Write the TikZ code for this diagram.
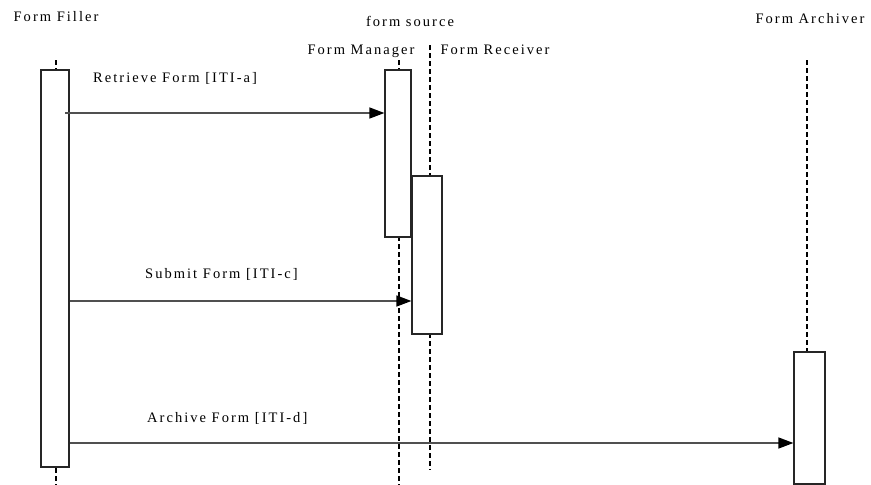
\documentclass[tikz,border=0pt]{standalone}
\usepackage{fontspec}
\setmainfont[LetterSpace=14]{Liberation Serif}
\usetikzlibrary{arrows.meta}
\definecolor{linegray}{RGB}{80,80,80}

\begin{document}
\begin{tikzpicture}[x=1pt, y=-1pt,
  actor/.style={font=\fontsize{14.5}{17}\selectfont, text=black, anchor=base, inner sep=0pt},
  msglabel/.style={font=\fontsize{14.5}{17}\selectfont, text=black, anchor=base west, inner sep=0pt},
  actbox/.style={draw=black!85, line width=1.2pt, fill=white, inner sep=0pt},
  lifeline/.style={draw=black, line width=1.3pt, dash pattern=on 5pt off 3pt},
  msg/.style={draw=linegray, line width=1.4pt, -{Triangle[length=15pt,width=11pt,color=black]}}]
\useasboundingbox (0,0) rectangle (871,485);
% actor names
\node[actor] (filler) at (56,21) {Form Filler};
\node[actor] (source) at (410,26) {form source};
\node[actor] (manager) at (361,54) {Form Manager};
\node[actor] (receiver) at (495,54) {Form Receiver};
\node[actor] (archiver) at (810,23) {Form Archiver};
% lifelines: top and end of each
\coordinate (fillertop) at (56,60);
\coordinate (fillerend) at (56,485);
\coordinate (managertop) at (399,60);
\coordinate (managerend) at (399,485);
\coordinate (receivertop) at (430,45);
\coordinate (receiverend) at (430,470);
\coordinate (archivertop) at (807,60);
\coordinate (archiverend) at (807,400);
\draw[lifeline] (fillertop) -- (fillerend);
\draw[lifeline] (managertop) -- (managerend);
\draw[lifeline] (receivertop) -- (receiverend);
\draw[lifeline] (archivertop) -- (archiverend);
% activation boxes
\node[actbox, minimum width=28pt, minimum height=397pt] (fillerbox) at (55,268.5) {};
\node[actbox, minimum width=26pt, minimum height=167pt] (managerbox) at (398,153.5) {};
\node[actbox, minimum width=30pt, minimum height=158pt] (receiverbox) at (427,255) {};
\node[actbox, minimum width=31pt, minimum height=132pt] (archiverbox) at (809.5,418) {};
% messages
\coordinate (retrieve) at (65,113);
\coordinate (submit) at (fillerbox.east |- 0,301);
\coordinate (archive) at (fillerbox.east |- 0,443);
\draw[msg] (retrieve) -- (retrieve -| managerbox.west);
\draw[msg] (submit) -- (submit -| receiverbox.west);
\draw[msg] (archive) -- (archive -| archiverbox.west);
\node[msglabel] (retrievelbl) at (93,82) {Retrieve Form [ITI-a]};
\node[msglabel] (submitlbl) at (145,278) {Submit Form [ITI-c]};
\node[msglabel] (archivelbl) at (147,422) {Archive Form [ITI-d]};
\end{tikzpicture}
\end{document}
